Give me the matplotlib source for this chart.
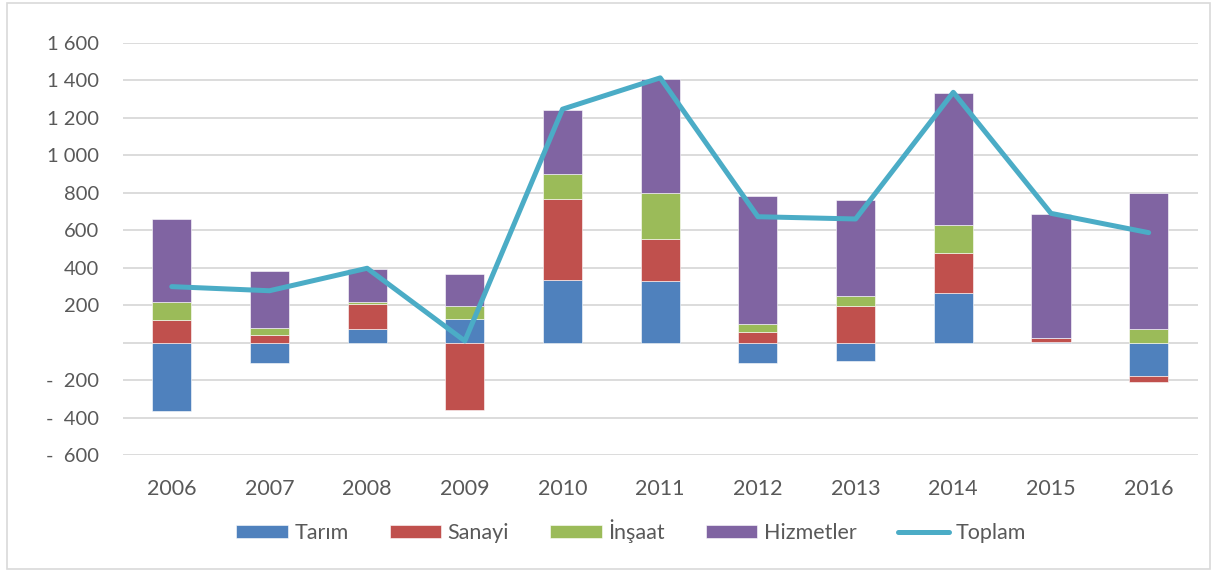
import numpy as np
import matplotlib.pyplot as plt
from matplotlib.patches import Rectangle
from matplotlib.ticker import FuncFormatter

plt.rcParams['font.family'] = ['Lato', 'DejaVu Sans']

years = ['2006', '2007', '2008', '2009', '2010', '2011',
         '2012', '2013', '2014', '2015', '2016']
tarim = [-363, -107, 73, 128, 333, 327, -110, -98, 263, 5, -178]
sanayi = [121, 39, 135, -359, 432, 226, 59, 197, 217, 18, -33]
insaat = [96, 39, 9, 68, 133, 247, 41, 50, 146, 2, 73]
hizmetler = [443, 304, 176, 172, 343, 606, 682, 512, 706, 663, 724]
toplam = [299, 277, 397, 9, 1246, 1413, 672, 660, 1336, 690, 587]

series = [('Tarım', tarim, '#4F81BD'),
          ('Sanayi', sanayi, '#C0504D'),
          ('İnşaat', insaat, '#9BBB59'),
          ('Hizmetler', hizmetler, '#8064A2')]


def fmt(v, pos):
    if v == 0:
        return ''
    s = '{:,.0f}'.format(abs(v)).replace(',', ' ')
    return ('-  ' + s) if v < 0 else s


fig = plt.figure(figsize=(12.17, 5.71), dpi=100)
ax = fig.add_axes([0.101, 0.203, 0.883, 0.722])

x = np.arange(len(years))
pos_base = np.zeros(len(years))
neg_base = np.zeros(len(years))
for name, vals, col in series:
    v = np.array(vals, dtype=float)
    bottom = np.where(v >= 0, pos_base, neg_base)
    ax.bar(x, v, 0.4, bottom=bottom, color=col, label=name,
           edgecolor='white', linewidth=0.4, zorder=2)
    pos_base += np.where(v >= 0, v, 0)
    neg_base += np.where(v < 0, v, 0)

ax.plot(x, toplam, color='#4BACC6', linewidth=3.6, label='Toplam',
        solid_capstyle='round', zorder=3)

ax.set_xlim(-0.5, len(years) - 0.5)
ax.set_ylim(-600, 1600)
ax.set_yticks(np.arange(-600, 1601, 200))
ax.yaxis.set_major_formatter(FuncFormatter(fmt))
ax.set_xticks(x)
ax.set_xticklabels(years)
ax.grid(axis='y', color='#d9d9d9', linewidth=1.3, zorder=0)
ax.set_axisbelow(True)
for s in ax.spines.values():
    s.set_visible(False)
ax.tick_params(length=0, labelsize=14.5, colors='#595959')
ax.tick_params(axis='x', labelsize=15.5, pad=17)
ax.tick_params(axis='y', pad=17)

handles, labels = ax.get_legend_handles_labels()
order = [1, 2, 3, 4, 0]
leg = ax.legend([handles[i] for i in order], [labels[i] for i in order],
                loc='center', bbox_to_anchor=(0.473, -0.184), ncol=5,
                frameon=False, fontsize=15.5, handlelength=2.4,
                handleheight=0.55, handletextpad=0.3, columnspacing=1.9)
for t in leg.get_texts():
    t.set_color('#595959')

fig.patches.append(Rectangle((0.006, 0.004), 0.988, 0.99, transform=fig.transFigure,
                             fill=False, edgecolor='#d9d9d9', linewidth=1.2))

fig.savefig('out.png', dpi=100)
